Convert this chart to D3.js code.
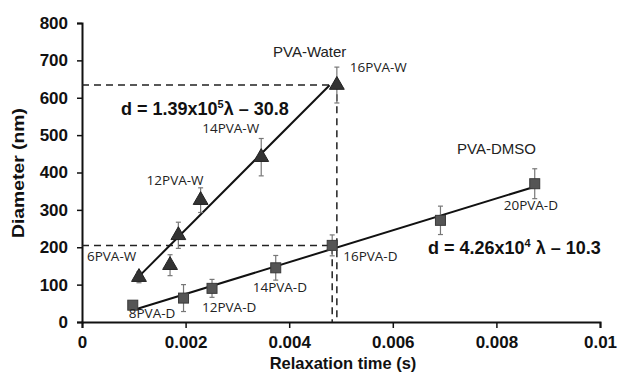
<!DOCTYPE html>
<html>
<head>
<meta charset="utf-8">
<script src="https://cdn.jsdelivr.net/npm/d3@7"></script>
<style>
  body { margin: 0; background: #fff; }
  .tick text { font-family: "Liberation Sans", Arial, sans-serif; font-weight: bold; font-size: 17px; fill: #111; }
  .lbl { font-family: "Open Sans", sans-serif; font-size: 13.5px; fill: #222; }
  .series { font-family: "Liberation Sans", Arial, sans-serif; font-size: 15px; fill: #222; }
  .eq { font-family: "Liberation Sans", Arial, sans-serif; font-weight: bold; font-size: 18px; fill: #111; }
  .title { font-family: "Liberation Sans", Arial, sans-serif; font-weight: bold; font-size: 16.5px; fill: #111; }
</style>
</head>
<body>
<script>
// PVA-Water (triangles)
var waterX = [0.00110, 0.00170, 0.00186, 0.00229, 0.00346, 0.00492];
var waterY = [120, 152, 232, 326, 441, 634];
var waterErr = [15, 28, 35, 33, 50, 48];
var waterNames = ["6PVA-W", "", "", "12PVA-W", "14PVA-W", "16PVA-W"];

// PVA-DMSO (squares)
var dmsoX = [0.00098, 0.00196, 0.00251, 0.00374, 0.00483, 0.00692, 0.00874];
var dmsoY = [45, 64, 90, 145, 205, 272, 370];
var dmsoErr = [6, 36, 24, 33, 28, 38, 40];
var dmsoNames = ["8PVA-D", "", "12PVA-D", "14PVA-D", "16PVA-D", "", "20PVA-D"];

// fits
var waterFit = {a: 1.39e5, b: -30.8, x0: 0.00110, x1: 0.00478};
var dmsoFit = {a: 4.26e4, b: -10.3, x0: 0.00104, x1: 0.00874};

var xTicks = [0, 0.002, 0.004, 0.006, 0.008, 0.01];
var yTicks = [0, 100, 200, 300, 400, 500, 600, 700, 800];

var width = 618, height = 375;
var margin = {left: 82, right: 18, top: 23, bottom: 53};

var svg = d3.select("body").append("svg")
  .attr("width", width)
  .attr("height", height);

var x = d3.scaleLinear().domain([0, 0.01]).range([margin.left, width - margin.right]);
var y = d3.scaleLinear().domain([0, 800]).range([height - margin.bottom, margin.top]);

// axes
var xAxis = svg.append("g")
  .attr("transform", "translate(0," + y(0) + ")")
  .call(d3.axisBottom(x).tickValues(xTicks).tickSize(6).tickPadding(7)
    .tickFormat(function(d) { return d === 0 ? "0" : String(+d.toFixed(3)); }));
var yAxis = svg.append("g")
  .attr("transform", "translate(" + x(0) + ",0)")
  .call(d3.axisLeft(y).tickValues(yTicks).tickSize(5).tickPadding(9));
[xAxis, yAxis].forEach(function(g) {
  g.select(".domain").attr("stroke", "#111").attr("stroke-width", 2);
  g.selectAll(".tick line").attr("stroke", "#111").attr("stroke-width", 1.5);
});
xAxis.selectAll(".tick text").attr("dy", "0.78em");

// dashed guide lines
var guides = [
  [[0, waterY[5]], [waterX[5], waterY[5]], [waterX[5], 0]],
  [[0, dmsoY[4]], [dmsoX[4], dmsoY[4]], [dmsoX[4], 0]]
];
var gline = d3.line().x(function(d) { return x(d[0]); }).y(function(d) { return y(d[1]); });
svg.selectAll("path.guide").data(guides).enter().append("path")
  .attr("class", "guide")
  .attr("d", gline)
  .attr("fill", "none")
  .attr("stroke", "#222")
  .attr("stroke-width", 1.5)
  .attr("stroke-dasharray", "7,5");

// fit lines
[waterFit, dmsoFit].forEach(function(f) {
  svg.append("line")
    .attr("x1", x(f.x0)).attr("y1", y(f.a * f.x0 + f.b))
    .attr("x2", x(f.x1)).attr("y2", y(f.a * f.x1 + f.b))
    .attr("stroke", "#111").attr("stroke-width", 2);
});

function errorBars(xs, ys, es) {
  var g = svg.append("g").attr("stroke", "#777").attr("stroke-width", 1.2);
  xs.forEach(function(v, i) {
    var cx = x(v);
    g.append("line").attr("x1", cx).attr("x2", cx).attr("y1", y(ys[i] - es[i])).attr("y2", y(ys[i] + es[i]));
    g.append("line").attr("x1", cx - 2.5).attr("x2", cx + 2.5).attr("y1", y(ys[i] + es[i])).attr("y2", y(ys[i] + es[i]));
    g.append("line").attr("x1", cx - 2.5).attr("x2", cx + 2.5).attr("y1", y(ys[i] - es[i])).attr("y2", y(ys[i] - es[i]));
  });
}
errorBars(waterX, waterY, waterErr);
errorBars(dmsoX, dmsoY, dmsoErr);

// markers
svg.selectAll("path.tri").data(waterX).enter().append("path")
  .attr("class", "tri")
  .attr("d", d3.symbol().type(d3.symbolTriangle).size(95))
  .attr("transform", function(d, i) { return "translate(" + x(d) + "," + y(waterY[i]) + ")"; })
  .attr("fill", "#333")
  .attr("stroke", "#222");

svg.selectAll("rect.sq").data(dmsoX).enter().append("rect")
  .attr("class", "sq")
  .attr("x", function(d) { return x(d) - 5; })
  .attr("y", function(d, i) { return y(dmsoY[i]) - 5; })
  .attr("width", 10).attr("height", 10)
  .attr("fill", "#555")
  .attr("stroke", "#3a3a3a");

// point labels (offsets in px from the marker)
var waterOff = [[-52, -16], [0, 0], [0, 0], [-54, -15], [-59, -24], [13, -13]];
var dmsoOff = [[-4, 13], [0, 0], [-10, 24], [-23, 24], [11, 16], [0, 0], [-31, 26]];
waterNames.forEach(function(n, i) {
  if (!n) return;
  svg.append("text").attr("class", "lbl")
    .attr("x", x(waterX[i]) + waterOff[i][0])
    .attr("y", y(waterY[i]) + waterOff[i][1])
    .text(n);
});
dmsoNames.forEach(function(n, i) {
  if (!n) return;
  svg.append("text").attr("class", "lbl")
    .attr("x", x(dmsoX[i]) + dmsoOff[i][0])
    .attr("y", y(dmsoY[i]) + dmsoOff[i][1])
    .text(n);
});

// series names
svg.append("text").attr("class", "series").attr("x", 273).attr("y", 57).text("PVA-Water");
svg.append("text").attr("class", "series").attr("x", 457).attr("y", 154).text("PVA-DMSO");

// equations
var eq1 = svg.append("text").attr("class", "eq").attr("x", 121).attr("y", 115);
eq1.append("tspan").text("d = 1.39x10");
eq1.append("tspan").attr("font-size", "11px").attr("dy", "-7").text("5");
eq1.append("tspan").attr("dy", "7").text("λ – 30.8");

var eq2 = svg.append("text").attr("class", "eq").attr("x", 428).attr("y", 254);
eq2.append("tspan").text("d = 4.26x10");
eq2.append("tspan").attr("font-size", "11px").attr("dy", "-7").text("4");
eq2.append("tspan").attr("dy", "7").text(" λ – 10.3");

// axis titles
svg.append("text").attr("class", "title")
  .attr("x", 343).attr("y", 369)
  .attr("text-anchor", "middle")
  .text("Relaxation time (s)");
svg.append("text").attr("class", "title")
  .attr("transform", "translate(24,173) rotate(-90)")
  .attr("text-anchor", "middle")
  .attr("textLength", 130)
  .attr("lengthAdjust", "spacingAndGlyphs")
  .text("Diameter (nm)");
</script>
</body>
</html>
